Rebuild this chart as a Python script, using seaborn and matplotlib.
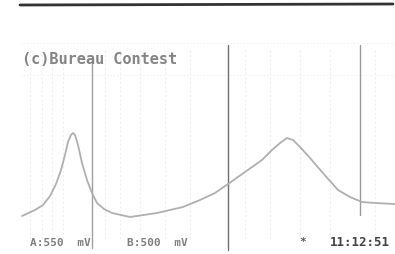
import numpy as np
import seaborn as sns
import pandas as pd
from matplotlib import pyplot as plt

# trace (x, y in screen units, y grows downward)
trace_x = [22, 35, 43, 50, 56, 61, 65, 68, 71, 73, 75, 78, 82, 87, 92, 97,
           104, 112, 130, 157, 183, 200, 215, 228, 245, 262, 272, 280, 287,
           293, 300, 310, 322, 338, 350, 362, 375, 395]
trace_y = [216, 210, 205, 196, 184, 170, 155, 142, 135, 133, 135, 145, 163,
           180, 193, 203, 209, 213, 217, 213, 207, 200, 193, 184, 172, 160,
           150, 143, 138, 140, 147, 158, 172, 190, 197, 202, 203, 204]

cursor_x = [92, 228, 360]
cursor_top = [60, 45, 45]
cursor_bottom = [248, 250, 215]
cursor_color = ['#a0a0a0', '#707070', '#9a9a9a']

grid_x = [30, 42, 52, 63, 105, 120, 140, 165, 190, 245, 270, 300, 330, 375]

title = '(c)Bureau Contest'
label_a = 'A:550  mV'
label_b = 'B:500  mV'
clock = '11:12:51'

sns.set_style('white')
fig = plt.figure(figsize=(3.95, 2.54), dpi=100)
ax = fig.add_axes([0, 0, 1, 1])

# faint screen graticule
for gx in grid_x:
    ax.plot([gx, gx], [50, 240], color='#efefef', lw=0.8, ls=(0, (2, 2)))
for gy in [43, 75]:
    ax.plot([20, 395], [gy, gy], color='#efefef', lw=0.8, ls=(0, (1, 2)))

# top bezel line
ax.plot([20, 393], [5, 4], color='#333333', lw=2.0)

for cx, t, b, c in zip(cursor_x, cursor_top, cursor_bottom, cursor_color):
    ax.plot([cx, cx], [t, b], color=c, lw=1.0)

df = pd.DataFrame({'x': trace_x, 'y': trace_y})
sns.lineplot(data=df, x='x', y='y', ax=ax, color='#b0b0b0', lw=1.3,
             sort=False, estimator=None)
ax.set_xlim(0, 395)
ax.set_ylim(254, 0)
ax.axis('off')

mono = 'DejaVu Sans Mono'
ax.text(22, 60, title, family=mono, fontsize=11, color='#858585',
        fontweight='bold', va='center', ha='left')
ax.text(30, 243, label_a, family=mono, fontsize=8, color='#808080',
        fontweight='bold', va='center', ha='left')
ax.text(127, 243, label_b, family=mono, fontsize=8, color='#808080',
        fontweight='bold', va='center', ha='left')
ax.text(303, 242, '*', family=mono, fontsize=8, color='#555555',
        fontweight='bold', va='center', ha='center')
ax.text(330, 242, clock, family=mono, fontsize=9, color='#444444',
        fontweight='bold', va='center', ha='left')

fig.savefig('out.png', dpi=100)
